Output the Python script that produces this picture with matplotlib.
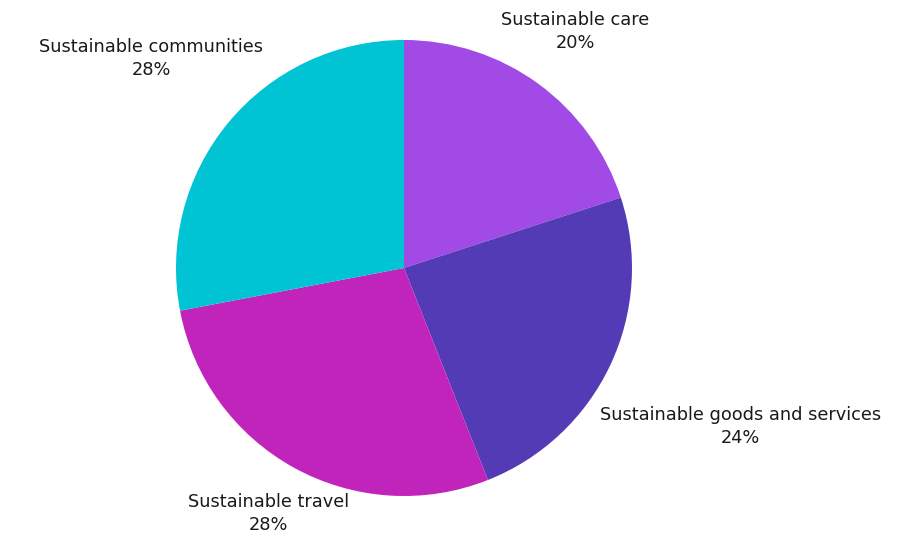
import numpy as np
import matplotlib
matplotlib.use("Agg")
import matplotlib.pyplot as plt

# --- data ---
categories = ["Sustainable care", "Sustainable goods and services",
              "Sustainable travel", "Sustainable communities"]
shares = [20, 24, 28, 28]
colors = ["#a14ae6", "#533bb5", "#c024ba", "#00c3d3"]

# label distance from pie centre (in radii), per slice
label_dist = [1.28, 1.63, 1.23, 1.44]

W, H = 913, 537
cx, cy, R = 404, 268, 228  # pie centre / radius in pixels

fig = plt.figure(figsize=(W / 100, H / 100), dpi=100)
ax = fig.add_axes([0, 0, 1, 1])

wedges, _ = ax.pie(shares, colors=colors, startangle=90, counterclock=False,
                   wedgeprops=dict(linewidth=0))

for w, name, val, d in zip(wedges, categories, shares, label_dist):
    mid = np.deg2rad((w.theta1 + w.theta2) / 2)
    ax.text(d * np.cos(mid), d * np.sin(mid), f"{name}\n{val}%",
            ha="center", va="center", fontsize=12.8, color="#1a1a1a",
            family="DejaVu Sans", linespacing=1.35)

ax.set_xlim(-cx / R, (W - cx) / R)
ax.set_ylim(-(H - cy) / R, cy / R)
ax.set_aspect("auto")
ax.axis("off")

fig.savefig("out.png", dpi=100)
